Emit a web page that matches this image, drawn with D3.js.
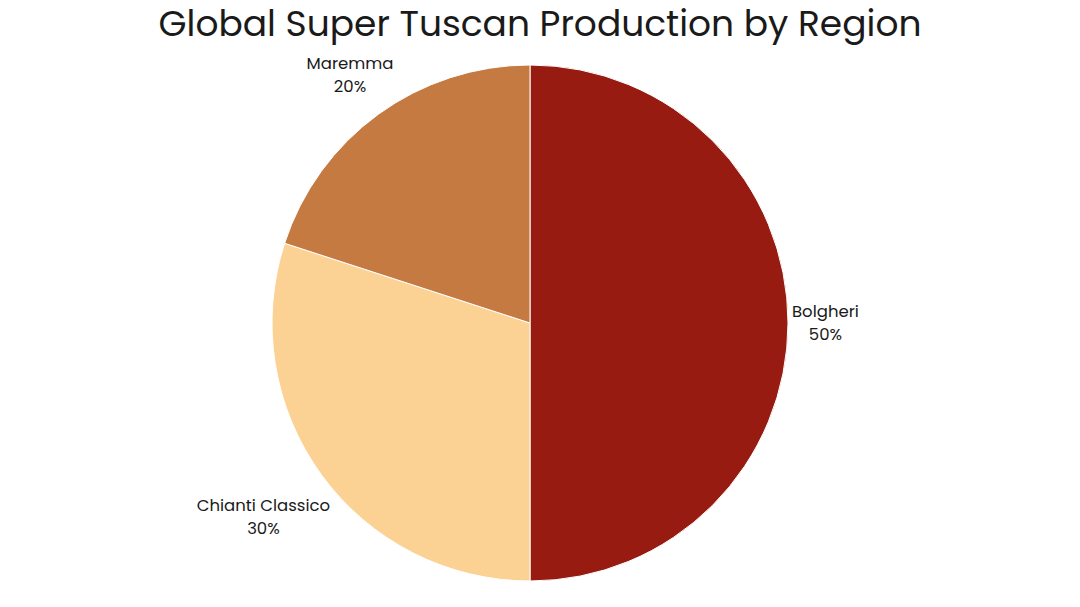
<!DOCTYPE html>
<html>
<head>
<meta charset="utf-8">
<script src="https://cdn.jsdelivr.net/npm/d3@7"></script>
<style>
  body { margin: 0; background: #fff; }
  text { font-family: "Poppins", "Inter", "Open Sans", sans-serif; fill: #1a1a1a; }
</style>
</head>
<body>
<svg width="1080" height="607"></svg>
<script>
var regions = ["Bolgheri", "Chianti Classico", "Maremma"];
var shares = [50, 30, 20];
var colors = ["#981b12", "#fbd294", "#c57a41"];

var svg = d3.select("svg"),
    width = +svg.attr("width"),
    height = +svg.attr("height");

var cx = 530, cy = 323, radius = 258;

// title
svg.append("text")
    .attr("x", width / 2)
    .attr("y", 36)
    .attr("text-anchor", "middle")
    .style("font-size", "36px")
    .text("Global Super Tuscan Production by Region");

var pie = d3.pie().sort(null).value(d => d.value);
var arc = d3.arc().innerRadius(0).outerRadius(radius);
var data = regions.map((r, i) => ({ name: r, value: shares[i], color: colors[i] }));
var total = d3.sum(shares);

var g = svg.append("g").attr("transform", "translate(" + cx + "," + cy + ")");

var arcs = pie(data);

g.selectAll("path")
    .data(arcs)
    .enter().append("path")
    .attr("d", arc)
    .attr("fill", d => d.data.color)
    .attr("stroke", "#fff")
    .attr("stroke-width", 1);

// outside labels: push the label box out along the mid-angle until it clears the circle
var labels = g.selectAll("g.lab")
    .data(arcs)
    .enter().append("g")
    .attr("class", "lab");

labels.each(function (d) {
    var el = d3.select(this);
    var t = el.append("text")
        .attr("text-anchor", "middle")
        .style("font-size", "16.5px");
    t.append("tspan").attr("x", 0).attr("dy", "-0.35em").text(d.data.name);
    t.append("tspan").attr("x", 0).attr("dy", "1.4em")
        .text(Math.round(d.data.value / total * 100) + "%");
    var bb = t.node().getBBox();
    var mid = (d.startAngle + d.endAngle) / 2;
    var s = Math.sin(mid), c = Math.cos(mid);
    var dist = radius + 4 + Math.abs(s) * bb.width / 2 + Math.abs(c) * bb.height / 2;
    var bx = dist * s, by = -dist * c;
    var ox = bb.x + bb.width / 2, oy = bb.y + bb.height / 2;
    el.attr("transform", "translate(" + (bx - ox) + "," + (by - oy) + ")");
});
</script>
</body>
</html>
